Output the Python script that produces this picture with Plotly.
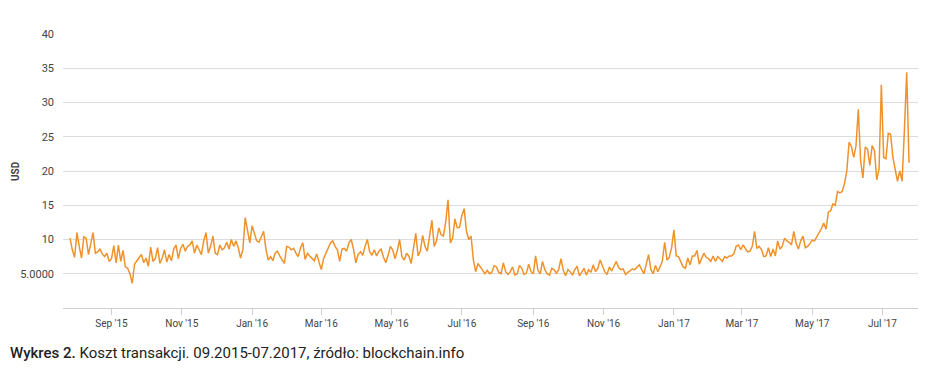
import datetime as dt
import plotly.graph_objects as go

# ---- data ----
start_date = "2015-07-27"
step_days = 2
fee_usd = [
    # Jul 2015 - Nov 2015
    10.2, 8.5, 7.4, 11.0, 9.0, 7.3, 10.4, 10.2, 7.8, 9.2,
    11.0, 8.0, 8.2, 8.6, 7.9, 7.5, 8.0, 6.8, 7.2, 9.1,
    6.6, 9.2, 6.8, 8.4, 6.0, 5.8, 5.0, 3.6, 6.4, 6.9,
    7.4, 7.8, 6.6, 7.3, 6.1, 8.9, 6.8, 7.2, 8.8, 6.5,
    7.3, 8.5, 6.7, 7.8, 6.9, 8.6, 9.2, 7.2, 8.7, 9.3,
    8.3, 9.0, 9.2, 9.8,
    # Nov 2015 - Feb 2016
    8.0, 9.2, 8.5, 7.8, 9.8, 11.0, 8.0, 9.0, 10.5, 8.0,
    7.8, 9.2, 8.5, 8.8, 9.6, 8.6, 10.0, 9.0, 9.8, 8.8,
    7.3, 8.5, 13.2, 11.5, 9.5, 12.0, 11.0, 9.8, 9.6, 10.5,
    11.2, 8.6, 7.0, 7.5, 6.9, 8.0, 8.3, 7.6, 7.0, 6.5,
    9.0, 8.9, 8.5, 8.7, 8.0, 7.5, 8.8, 9.5, 7.1, 8.0,
    # Feb 2016 - May 2016
    7.6, 7.3, 6.9, 7.9, 6.6, 5.6, 7.2, 8.0, 8.8, 9.5,
    9.8, 9.0, 8.5, 6.8, 8.6, 8.7, 8.3, 9.5, 10.0, 8.6,
    6.6, 7.8, 8.2, 7.7, 9.0, 10.0, 8.2, 7.7, 8.5, 7.6,
    8.3, 8.6, 7.4, 6.6, 7.7, 9.0, 8.5, 7.2, 8.4, 10.0,
    7.5, 7.0, 8.0, 7.6, 6.5, 8.4, 10.9, 7.6, 8.3, 10.6,
    9.0,
    # Jun 2016 - Sep 2016
    8.3, 10.5, 12.8, 9.0, 9.8, 11.7, 10.7, 10.5, 12.6, 15.8,
    9.5, 10.2, 13.0, 11.7, 11.8, 13.5, 14.5, 11.2, 10.0, 10.5,
    7.0, 5.3, 6.5, 6.0, 5.5, 5.0, 5.5, 5.0, 5.2, 6.2,
    6.0, 5.2, 5.0, 6.6, 5.3, 4.9, 5.3, 6.0, 4.8, 5.0,
    6.2, 5.8, 4.9, 5.1, 6.4, 5.3, 5.0, 7.6, 5.5, 5.0,
    6.8, 5.6, 5.0,
    # Sep 2016 - Dec 2016
    4.8, 5.8, 5.6, 5.1, 5.6, 7.2, 5.5, 4.7, 5.6, 5.3,
    4.8, 5.6, 6.1, 4.7, 5.2, 5.8, 4.8, 5.6, 5.2, 6.3,
    5.3, 5.8, 7.0, 6.0, 5.3, 4.9, 6.0, 5.4, 6.0, 6.8,
    5.9, 5.6, 5.7, 4.9, 5.2, 5.4, 5.7, 5.6, 6.0, 6.3,
    5.6, 5.0, 6.4, 7.8, 5.6, 5.0, 6.2, 5.3, 6.0, 6.9,
    9.6, 7.0,
    # Dec 2016 - Apr 2017
    7.4, 8.8, 11.4, 7.6, 7.5, 6.8, 6.0, 5.8, 7.3, 6.3,
    7.6, 7.6, 8.4, 6.4, 7.2, 8.0, 7.4, 7.2, 6.8, 7.6,
    6.8, 7.5, 7.2, 6.8, 7.5, 7.3, 7.6, 7.6, 7.9, 9.0,
    9.2, 8.5, 9.2, 8.6, 8.2, 8.3, 9.0, 11.2, 8.7, 9.0,
    8.5, 7.5, 7.6, 8.8, 7.5, 8.6, 7.6, 9.8, 8.6, 9.0,
    10.2, 9.8,
    # Apr 2017 - Jul 2017
    9.6, 9.2, 11.2, 9.5, 8.6, 9.8, 10.5, 8.8, 9.0, 9.4,
    9.9, 9.8, 10.4, 10.9, 11.6, 12.4, 11.5, 14.0, 14.2, 15.2,
    15.0, 17.0, 16.8, 17.0, 18.2, 20.0, 24.2, 23.6, 22.0, 23.7,
    29.0, 21.5, 19.0, 23.5, 23.2, 20.8, 23.7, 23.0, 18.7, 20.3,
    32.6, 22.0, 21.8, 25.5, 25.4, 22.0, 20.2, 18.5, 20.0, 18.5,
    26.0, 34.4, 21.2,
]

x_tick_dates = ["2015-09-01", "2015-11-01", "2016-01-01", "2016-03-01",
                "2016-05-01", "2016-07-01", "2016-09-01", "2016-11-01",
                "2017-01-01", "2017-03-01", "2017-05-01", "2017-07-01"]
x_tick_labels = ["Sep '15", "Nov '15", "Jan '16", "Mar '16", "May '16", "Jul '16",
                 "Sep '16", "Nov '16", "Jan '17", "Mar '17", "May '17", "Jul '17"]
y_tick_values = [5, 10, 15, 20, 25, 30, 35, 40]
y_tick_labels = ["5.0000", "10", "15", "20", "25", "30", "35", "40"]
y_title = "USD"
caption = "<span style='font-weight:500'>Wykres 2.</span> Koszt transakcji. 09.2015-07.2017, źródło: blockchain.info"

d0 = dt.date.fromisoformat(start_date)
dates = [d0 + dt.timedelta(days=step_days * i) for i in range(len(fee_usd))]

L, R, T, B = 63, 10, 34, 63
W, H = 928, 371
pw, ph = W - L - R, H - T - B

fig = go.Figure()
fig.add_trace(go.Scatter(
    x=dates, y=fee_usd, mode="lines",
    line=dict(color="#f0922b", width=1.5),
    hoverinfo="x+y", showlegend=False,
))

fig.update_layout(
    width=W, height=H,
    margin=dict(l=L, r=R, t=T, b=B, autoexpand=False),
    paper_bgcolor="white", plot_bgcolor="white",
    font=dict(family="Roboto, Arial, sans-serif", size=11, color="#444"),
    xaxis=dict(
        type="date", automargin=False,
        range=["2015-07-20 22:00", "2017-07-31 19:00"],
        tickvals=x_tick_dates, ticktext=x_tick_labels,
        showgrid=False, zeroline=False,
        showline=True, linecolor="#cfcfcf", linewidth=1,
        ticks="outside", ticklen=6, tickcolor="#cfcfcf",
        tickfont=dict(size=10, color="#444"),
    ),
    yaxis=dict(
        range=[0, 40], tickvals=y_tick_values, ticktext=y_tick_labels,
        automargin=False,
        showgrid=True, gridcolor="#dcdcdc", gridwidth=1,
        zeroline=False, showline=False, ticks="",
        ticklabelstandoff=8,
        tickfont=dict(size=11, color="#444"),
    ),
    annotations=[
        dict(
            text="<b>" + y_title + "</b>", xref="paper", yref="paper",
            x=(15 - L) / pw, y=0.5, xanchor="center", yanchor="middle",
            textangle=-90, showarrow=False,
            font=dict(family="Roboto, Arial, sans-serif", size=10, color="#444"),
        ),
        dict(
            text=caption, xref="paper", yref="paper",
            x=(8 - L) / pw, y=(H - B - 353) / ph, xanchor="left", yanchor="middle",
            showarrow=False,
            font=dict(family="Roboto, Arial, sans-serif", size=15, color="#222"),
        ),
    ],
)

fig.write_html("out.html", config={"displayModeBar": False},
               post_script="document.body.style.margin='0px';")
